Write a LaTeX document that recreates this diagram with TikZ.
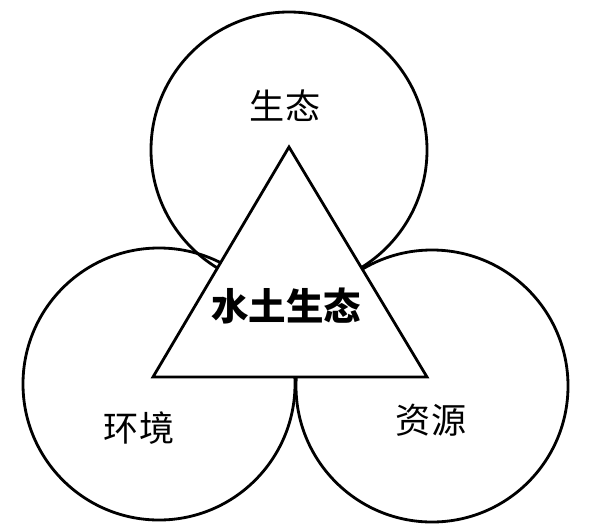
\documentclass[tikz,border=0pt]{standalone}
\usepackage{fontspec}
\newfontfamily\cjk{Noto Sans CJK SC}
\usepackage{tikz}

\tikzset{
  ring/.style={draw=black, line width=2.4pt, circle, inner sep=0pt},
  label/.style={draw=none, font=\cjk\fontsize{30}{32}\selectfont}
}

\begin{document}
\begin{tikzpicture}[x=0.03cm, y=-0.03cm]
% white page, same size as the original picture (units are pixels)
\useasboundingbox[fill=white] (0,0) rectangle (592,530);

% Three circles, drawn as outlines only
\node[ring, minimum size=8.28cm] (eco) at (289,150) {};
\node[ring, minimum size=8.16cm] (env) at (159,384) {};
\node[ring, minimum size=8.16cm] (res) at (432,386) {};

% Triangle in the middle, filled white so it covers the circles
\coordinate (top) at (289,147);
\coordinate (bl) at (153,377);
\coordinate (br) at (427,377);
\draw[draw=black, line width=2.4pt, fill=white] (top) -- (bl) -- (br) -- cycle;

% Labels
\node[label] (ecotext) at (285,106) {生态};
\node[label] (envtext) at (139,428) {环境};
\node[label] (restext) at (431,420) {资源};
\node[label, font=\cjk\bfseries\fontsize{32}{34}\selectfont] (core) at (286,306) {水土生态};
\end{tikzpicture}
\end{document}
